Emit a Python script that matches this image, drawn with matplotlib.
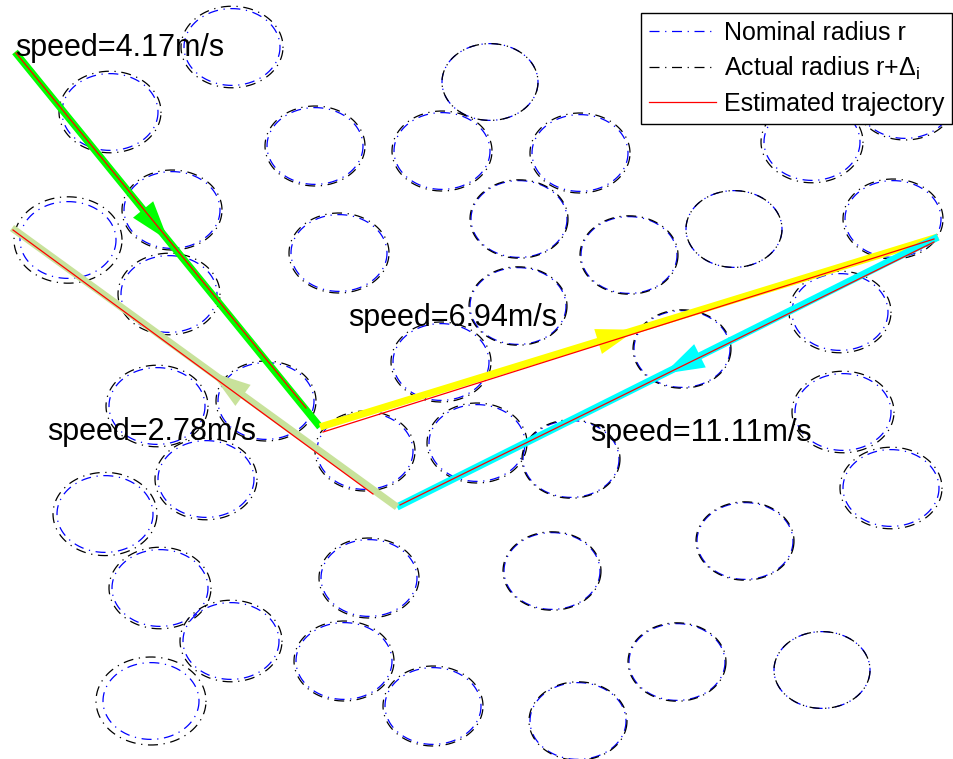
import numpy as np
import matplotlib
matplotlib.use("Agg")
import matplotlib.pyplot as plt
from matplotlib.patches import Polygon

plt.rcParams['font.family'] = ['Liberation Sans', 'DejaVu Sans']
plt.rcParams['mathtext.fontset'] = 'custom'
plt.rcParams['mathtext.rm'] = 'Liberation Sans'
plt.rcParams['mathtext.it'] = 'Liberation Sans'

# Obstacle centres (x, y) and radius deviations
obs_x = [232, 110, 315, 490, 442, 580, 812, 905, 172, 68, 339, 519, 629, 734, 893,
         169, 840, 518, 682, 441, 157, 266, 365, 477, 571, 843, 206, 891, 105, 745,
         369, 552, 160, 231, 344, 677, 822, 151, 433, 578]
obs_y = [47, 112, 146, 82, 151, 153, 142, 100, 210, 240, 253, 219, 255, 229, 219,
         294, 312, 306, 349, 362, 406, 401, 451, 443, 459, 412, 479, 488, 514, 541,
         578, 571, 588, 641, 661, 662, 670, 701, 706, 721]
obs_delta = [3, 3, 2, 0, 2, 2, 3, 2, 2, 6, 2, 1, 1, 0, 2,
             3, 3, 1, 1, 2, 3, 2, 2, 2, 1, 3, 3, 3, 4, 1,
             2, 1, 3, 3, 2, 1, 0, 7, 2, 1]
nominal_r = 48
y_squash = 0.8

# Reference path waypoints and leg speeds
path_x = [15, 320, 938, 397, 12]
path_y = [52, 427, 237, 507, 228]
leg_colors = ['#00ff00', '#ffff00', '#00ffff', '#c8e29b']
arrow_frac = [0.42, 0.45, 0.44, 0.40]
speed_labels = ['speed=4.17m/s', 'speed=6.94m/s', 'speed=11.11m/s', 'speed=2.78m/s']
label_x = [15, 348, 590, 47]
label_y = [56, 326, 441, 440]

# Estimated trajectory, one piece per leg
est_legs = [
    ([16, 306], [53, 408]),
    ([323, 934], [432, 239]),
    ([934, 400], [242, 505]),
    ([373, 13], [494, 230]),
]

fig = plt.figure(figsize=(9.54, 7.59), dpi=100)
ax = fig.add_axes([0, 0, 1, 1])
ax.set_xlim(0, 954)
ax.set_ylim(759, 0)
ax.axis('off')

circle_dash = (8, 4.5, 1, 4.5)
theta = np.linspace(0, 2 * np.pi, 300)
for i, (cx, cy, d) in enumerate(zip(obs_x, obs_y, obs_delta)):
    r_act = nominal_r + d
    ax.plot(cx + nominal_r * np.cos(theta), cy + nominal_r * y_squash * np.sin(theta),
            color='#0000ff', lw=0.9, dashes=circle_dash,
            label='Nominal radius r' if i == 0 else None, zorder=2)
    ax.plot(cx + r_act * np.cos(theta + 0.08), cy + r_act * y_squash * np.sin(theta + 0.08),
            color='black', lw=0.9, dashes=circle_dash,
            label=r'Actual radius r+$\Delta_\mathrm{i}$' if i == 0 else None, zorder=2)

# Thick legs with arrowheads
for k in range(4):
    ax0, ay0 = path_x[k], path_y[k]
    bx, by = path_x[k + 1], path_y[k + 1]
    ax.plot([ax0, bx], [ay0, by], color=leg_colors[k], lw=5.2,
            solid_capstyle='butt', zorder=3)
    v = np.array([bx - ax0, by - ay0], dtype=float)
    u = v / np.hypot(*v)
    n = np.array([-u[1], u[0]])
    base = np.array([ax0, ay0]) + arrow_frac[k] * v
    tip = base + 40 * u
    tri = Polygon([tip, base + 13 * n, base - 13 * n], closed=True,
                  facecolor=leg_colors[k], edgecolor='none', zorder=3)
    ax.add_patch(tri)

for j, (xs, ys) in enumerate(est_legs):
    ax.plot(xs, ys, color='red', lw=0.9, zorder=4,
            label='Estimated trajectory' if j == 0 else None)

for s, tx, ty in zip(speed_labels, label_x, label_y):
    ax.text(tx, ty, s, fontsize=22, ha='left', va='baseline', zorder=5)

leg = ax.legend(loc='upper right', bbox_to_anchor=(952 / 954, 1 - 13 / 759),
                fontsize=18, frameon=True, fancybox=False, framealpha=1,
                edgecolor='black', borderaxespad=0, handlelength=2.7,
                handletextpad=0.3, labelspacing=0.4, borderpad=0.32)
leg.get_frame().set_linewidth(1.0)

fig.savefig('out.png', dpi=100)
